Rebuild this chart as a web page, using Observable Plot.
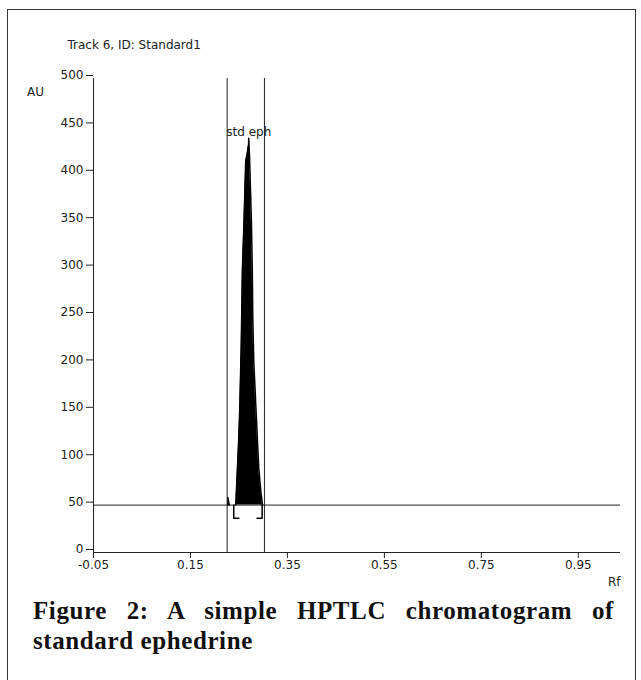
<!DOCTYPE html>
<html>
<head>
<meta charset="utf-8">
<script src="https://cdn.jsdelivr.net/npm/d3@7"></script>
<script src="https://cdn.jsdelivr.net/npm/@observablehq/plot@0.6"></script>
<style>
  html, body { margin: 0; padding: 0; background: #fff; overflow: hidden; }
  #frame { position: absolute; left: 7px; top: 9px; width: 629px; height: 700px; border: 1px solid #333; box-sizing: border-box; }
  #chart { position: absolute; left: 0; top: 0; }
  .cap { position: absolute; left: 33px; width: 581px; font-family: "Liberation Serif", serif; font-weight: bold; font-size: 25px; letter-spacing: 0.6px; color: #111; white-space: nowrap; }
  #cap1 { top: 597px; text-align: justify; text-align-last: justify; white-space: normal; }
  #cap2 { top: 627px; }
</style>
</head>
<body>
<div id="frame"></div>
<div id="chart"></div>
<div class="cap" id="cap1">Figure 2: A simple HPTLC chromatogram of</div>
<div class="cap" id="cap2">standard ephedrine</div>
<script>
// ---- data ----
const titleText = "Track 6, ID: Standard1";
const yLabel = "AU";
const xLabel = "Rf";
const peakName = "std eph";
const xTicks = [-0.05, 0.15, 0.35, 0.55, 0.75, 0.95];
const yTicks = [0, 50, 100, 150, 200, 250, 300, 350, 400, 450, 500];
const baselineAU = 50;
const windowRf = [0.2257, 0.3026];          // integration window lines
const peakRf = [0.2434, 0.2469, 0.2496, 0.2517, 0.2548, 0.2572, 0.2603, 0.2640, 0.2671, 0.2698, 0.2702, 0.2716, 0.2740, 0.2758, 0.2775, 0.2785, 0.2806, 0.2857, 0.2909, 0.2950, 0.2986];
const peakAU = [50, 89, 120, 152, 220, 300, 347, 413, 421, 430, 437, 421, 380, 347, 299, 249, 202, 145, 89, 65, 50];
const bumpRf = [0.2268, 0.2270, 0.2285, 0.2300];
const bumpAU = [50, 58, 54, 50];
const peakStartRf = 0.2393, peakEndRf = 0.2978, markerAU = 36, markerLen = 0.0105;

const peak = peakRf.map((rf, i) => ({rf, au: peakAU[i]}));
const bump = bumpRf.map((rf, i) => ({rf, au: bumpAU[i]}));
const startMark = [{rf: peakStartRf, au: baselineAU}, {rf: peakStartRf, au: markerAU}, {rf: peakStartRf + markerLen, au: markerAU}];
const endMark = [{rf: peakEndRf, au: baselineAU}, {rf: peakEndRf, au: markerAU}, {rf: peakEndRf - markerLen, au: markerAU}];
const apex = peak.reduce((a, b) => (b.au > a.au ? b : a));

const ink = "#222";
const chart = Plot.plot({
  width: 641,
  height: 600,
  marginLeft: 93,
  marginRight: 21,
  marginTop: 78,
  marginBottom: 48,
  x: {domain: [-0.05, 1.037]},
  y: {domain: [0, 500]},
  style: {fontFamily: "DejaVu Sans, sans-serif", fontSize: "12px", color: ink, background: "transparent"},
  marks: [
    Plot.axisY(yTicks, {tickSize: 7, tickPadding: 3, dy: -3, label: null, stroke: ink, fontSize: 12}),
    Plot.axisX(xTicks, {tickSize: 6, tickPadding: 2, tickFormat: d => d.toFixed(2), label: null, stroke: ink, fontSize: 12}),
    Plot.ruleY([baselineAU], {stroke: ink}),
    Plot.areaY(peak, {x: "rf", y1: baselineAU, y2: "au", fill: "black"}),
    Plot.lineY(peak, {x: "rf", y: "au", stroke: "black"}),
    Plot.lineY(bump, {x: "rf", y: "au", stroke: "black"}),
    Plot.lineY(startMark, {x: "rf", y: "au", stroke: "black"}),
    Plot.lineY(endMark, {x: "rf", y: "au", stroke: "black", strokeWidth: 1.5}),
    Plot.ruleX(windowRf, {stroke: ink}),
    Plot.ruleX([xTicks[0]], {stroke: ink}),
    Plot.ruleY([0], {stroke: ink}),
    Plot.text([peakName], {x: apex.rf, y: apex.au, dy: -6, textAnchor: "middle", fill: ink, fontSize: 12}),
    Plot.text([titleText], {frameAnchor: "top-left", dx: -26, dy: -38, textAnchor: "start", fill: ink, fontSize: 12}),
    Plot.text([yLabel], {frameAnchor: "top-left", dx: -58, dy: 9, textAnchor: "middle", fill: ink, fontSize: 12}),
    Plot.text([xLabel], {frameAnchor: "bottom-right", dx: 0, dy: 33, textAnchor: "end", fill: ink, fontSize: 12})
  ]
});
document.getElementById("chart").appendChild(chart);
</script>
</body>
</html>
